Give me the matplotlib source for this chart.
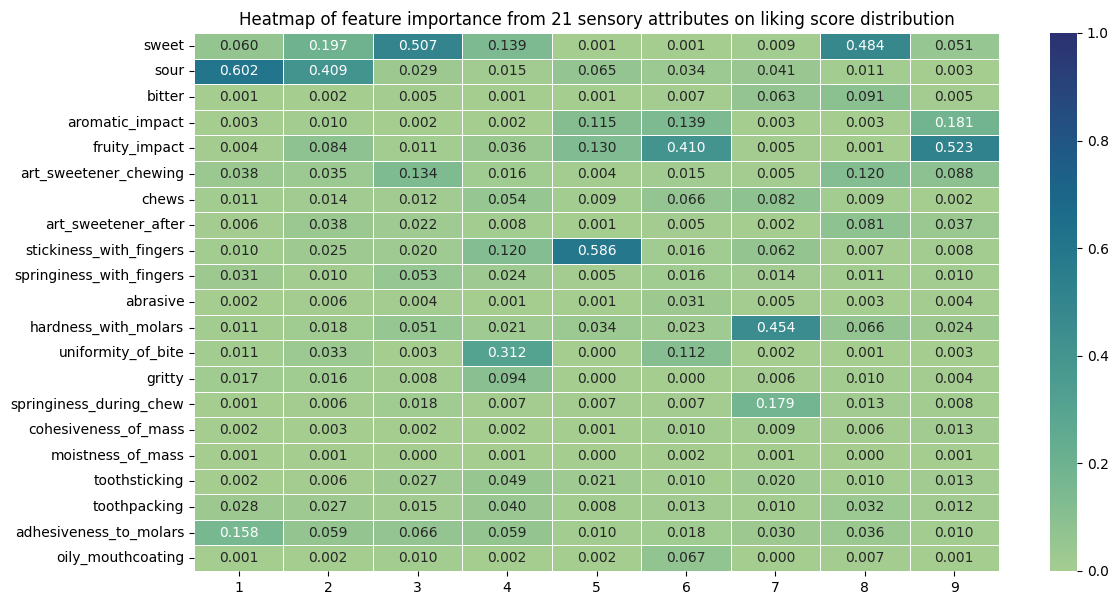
import matplotlib
matplotlib.use("Agg")
import matplotlib.pyplot as plt
import numpy as np
import pandas as pd
import seaborn as sns

attributes = [
    "sweet", "sour", "bitter", "aromatic_impact", "fruity_impact",
    "art_sweetener_chewing", "chews", "art_sweetener_after",
    "stickiness_with_fingers", "springiness_with_fingers", "abrasive",
    "hardness_with_molars", "uniformity_of_bite", "gritty",
    "springiness_during_chew", "cohesiveness_of_mass", "moistness_of_mass",
    "toothsticking", "toothpacking", "adhesiveness_to_molars",
    "oily_mouthcoating",
]

scores = [1, 2, 3, 4, 5, 6, 7, 8, 9]

importance = [
    [0.060, 0.197, 0.507, 0.139, 0.001, 0.001, 0.009, 0.484, 0.051],
    [0.602, 0.409, 0.029, 0.015, 0.065, 0.034, 0.041, 0.011, 0.003],
    [0.001, 0.002, 0.005, 0.001, 0.001, 0.007, 0.063, 0.091, 0.005],
    [0.003, 0.010, 0.002, 0.002, 0.115, 0.139, 0.003, 0.003, 0.181],
    [0.004, 0.084, 0.011, 0.036, 0.130, 0.410, 0.005, 0.001, 0.523],
    [0.038, 0.035, 0.134, 0.016, 0.004, 0.015, 0.005, 0.120, 0.088],
    [0.011, 0.014, 0.012, 0.054, 0.009, 0.066, 0.082, 0.009, 0.002],
    [0.006, 0.038, 0.022, 0.008, 0.001, 0.005, 0.002, 0.081, 0.037],
    [0.010, 0.025, 0.020, 0.120, 0.586, 0.016, 0.062, 0.007, 0.008],
    [0.031, 0.010, 0.053, 0.024, 0.005, 0.016, 0.014, 0.011, 0.010],
    [0.002, 0.006, 0.004, 0.001, 0.001, 0.031, 0.005, 0.003, 0.004],
    [0.011, 0.018, 0.051, 0.021, 0.034, 0.023, 0.454, 0.066, 0.024],
    [0.011, 0.033, 0.003, 0.312, 0.000, 0.112, 0.002, 0.001, 0.003],
    [0.017, 0.016, 0.008, 0.094, 0.000, 0.000, 0.006, 0.010, 0.004],
    [0.001, 0.006, 0.018, 0.007, 0.007, 0.007, 0.179, 0.013, 0.008],
    [0.002, 0.003, 0.002, 0.002, 0.001, 0.010, 0.009, 0.006, 0.013],
    [0.001, 0.001, 0.000, 0.001, 0.000, 0.002, 0.001, 0.000, 0.001],
    [0.002, 0.006, 0.027, 0.049, 0.021, 0.010, 0.020, 0.010, 0.013],
    [0.028, 0.027, 0.015, 0.040, 0.008, 0.013, 0.010, 0.032, 0.012],
    [0.158, 0.059, 0.066, 0.059, 0.010, 0.018, 0.030, 0.036, 0.010],
    [0.001, 0.002, 0.010, 0.002, 0.002, 0.067, 0.000, 0.007, 0.001],
]

df = pd.DataFrame(np.array(importance), index=attributes, columns=scores)

W, H = 1118, 605

fig = plt.figure(figsize=(W / 100, H / 100), dpi=100)

# axes placed in pixel terms to match the reference layout
ax = fig.add_axes([194 / W, 1 - 571 / H, (999 - 194) / W, (571 - 33) / H])
cbar_ax = fig.add_axes([1050 / W, 1 - 571 / H, 27 / W, (571 - 33) / H])

sns.heatmap(
    df,
    ax=ax,
    cbar_ax=cbar_ax,
    cmap="crest",
    vmin=0,
    vmax=1,
    annot=True,
    fmt=".3f",
    linewidths=0.5,
    linecolor="white",
)

ax.set_title(
    "Heatmap of feature importance from 21 sensory attributes on liking score distribution",
    fontsize=12,
)

ax.tick_params(axis="y", rotation=0)

plt.savefig("out.png", dpi=100)
plt.close()
